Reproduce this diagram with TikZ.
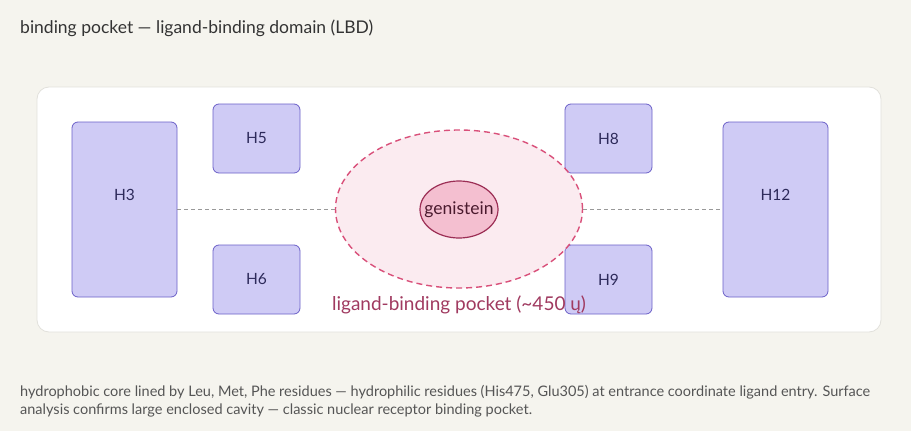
\documentclass[tikz,border=0pt]{standalone}
\usepackage{fontspec}
\setmainfont{Lato}
\usetikzlibrary{shapes.geometric}
\definecolor{bgc}{HTML}{F5F4EE}
\definecolor{panelline}{HTML}{E2E1DC}
\definecolor{helixfill}{HTML}{CFCBF5}
\definecolor{helixline}{HTML}{6B60C8}
\definecolor{helixtext}{HTML}{2D2A5A}
\definecolor{pocketfill}{HTML}{FBE8EE}
\definecolor{pocketline}{HTML}{D9507A}
\definecolor{ligfill}{HTML}{F4BFD0}
\definecolor{ligline}{HTML}{9C2E55}
\definecolor{ligtext}{HTML}{4A1A2E}
\definecolor{pockettext}{HTML}{A03A60}
\definecolor{titletext}{HTML}{333333}
\definecolor{captext}{HTML}{555555}
\definecolor{dashc}{HTML}{999999}
\tikzset{
  helix/.style={draw=helixline, fill=helixfill, line width=0.8pt, rounded corners=6pt,
    text=helixtext, font=\fontsize{15.5}{18}\selectfont, inner sep=0pt},
  tether/.style={draw=dashc, line width=0.7pt, dash pattern=on 4pt off 3pt},
}
\begin{document}
\begin{tikzpicture}[x=1pt,y=-1pt]
\fill[bgc] (0,0) rectangle (911,431);
\useasboundingbox (0,0) rectangle (911,431);
\node[anchor=west, text=titletext, font=\fontsize{17.5}{20}\selectfont, inner sep=0pt] (title) at (20,28) {binding pocket — ligand-binding domain (LBD)};
\node[draw=panelline, fill=white, rounded corners=12pt, line width=0.8pt, minimum width=844pt, minimum height=245pt, inner sep=0pt] (panel) at (459,209.5) {};
\node[helix, minimum width=105pt, minimum height=175pt] (H3) at (124.5,209.5) {};
\node[helixtext, font=\fontsize{15.5}{18}\selectfont] at (124.5,195) {H3};
\node[helix, minimum width=87pt, minimum height=69pt] (H5) at (256.5,138.5) {H5};
\node[helix, minimum width=87pt, minimum height=69pt] (H6) at (256.5,279.5) {H6};
\node[helix, minimum width=87pt, minimum height=69pt] (H8) at (608.5,138.5) {H8};
\node[helix, minimum width=87pt, minimum height=69pt] (H9) at (608.5,279.5) {H9};
\node[helix, minimum width=105pt, minimum height=175pt] (H12) at (775.5,209.5) {};
\node[helixtext, font=\fontsize{15.5}{18}\selectfont] at (775.5,195) {H12};
\node[ellipse, draw=pocketline, fill=pocketfill, fill opacity=0.85, line width=1.4pt, dash pattern=on 6pt off 4pt, minimum width=247pt, minimum height=158pt, inner sep=0pt] (pocket) at (459,209) {};
\node[ellipse, draw=ligline, fill=ligfill, line width=1.2pt, minimum width=78pt, minimum height=57pt, inner sep=0pt] (lig) at (459,209.5) {};
\node[text=ligtext, font=\fontsize{17.5}{18}\selectfont, inner sep=0pt] (ligtxt) at (459,210) {genistein};
\draw[tether] (H3.east |- pocket.west) -- (pocket.west);
\draw[tether] (pocket.east) -- (H12.west |- pocket.east);
\node[text=pockettext, font=\fontsize{19}{20}\selectfont, inner sep=0pt] (plabel) at (459,305) {ligand-binding pocket (\char"007E 450 ų)};
\node[anchor=north west, text=captext, align=left, font=\fontsize{14.5}{18}\selectfont, inner sep=0pt] (cap) at (20,385.5) {hydrophobic core lined by Leu, Met, Phe residues — hydrophilic residues (His475, Glu305) at entrance coordinate ligand entry. Surface\\analysis confirms large enclosed cavity — classic nuclear receptor binding pocket.};
\end{tikzpicture}
\end{document}
